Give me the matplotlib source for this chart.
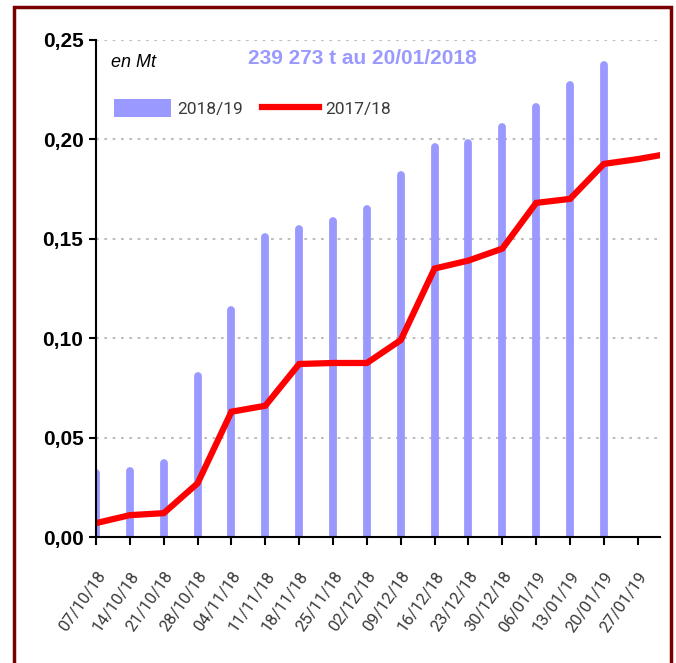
import matplotlib
matplotlib.use("Agg")
import matplotlib.pyplot as plt
from matplotlib.patches import Rectangle, Patch
from matplotlib.lines import Line2D
from matplotlib.transforms import ScaledTranslation
import numpy as np

weeks = ["07/10/18", "14/10/18", "21/10/18", "28/10/18", "04/11/18", "11/11/18",
         "18/11/18", "25/11/18", "02/12/18", "09/12/18", "16/12/18", "23/12/18",
         "30/12/18", "06/01/19", "13/01/19", "20/01/19", "27/01/19", ""]
season_1819 = [0.034, 0.035, 0.039, 0.083, 0.116, 0.153, 0.157, 0.161, 0.167,
               0.184, 0.198, 0.200, 0.208, 0.218, 0.229, 0.2393, None, None]
season_1718 = [0.007, 0.011, 0.012, 0.027, 0.063, 0.066, 0.087, 0.0875, 0.0875,
               0.099, 0.135, 0.139, 0.145, 0.168, 0.170, 0.1876, 0.190, 0.193]

BAR = "#9999FF"
RED = "#FF0000"
LIGHT = ["Roboto", "DejaVu Sans"]
GREY = "#3A3A3A"
BAR_LW = 5.6

fig = plt.figure(figsize=(6.76, 6.63), dpi=100)
ax = fig.add_axes([0.142, 0.190, 0.834, 0.750])

x = np.arange(len(weeks))
bx = [i for i, v in zip(x, season_1819) if v is not None]
bv = [v for v in season_1819 if v is not None]
# thick strokes with round tops; shift down by half the cap so the top sits on the value
down = ax.transData + ScaledTranslation(0, -BAR_LW / 2 / 72, fig.dpi_scale_trans)
bars = ax.vlines(bx, 0, bv, color=BAR, lw=BAR_LW, zorder=2, transform=down)
bars.set_capstyle("round")
ax.plot(x, season_1718, color=RED, lw=4.5, solid_joinstyle="miter", zorder=3)

ax.set_xlim(0, 16.65)
ax.set_ylim(0, 0.25)
ax.set_yticks(np.arange(0, 0.26, 0.05))
ax.set_yticklabels([f"{v:.2f}".replace(".", ",") for v in np.arange(0, 0.26, 0.05)],
                   fontfamily="Liberation Sans", fontweight="bold", fontsize=15)
ax.set_xticks(x[:17])
ax.set_xticklabels(weeks[:17], rotation=55, ha="right", rotation_mode="anchor",
                   fontfamily=LIGHT, fontsize=12, color=GREY)
ax.tick_params(axis="y", length=5, width=1.5, pad=4)
ax.tick_params(axis="x", length=6, width=1.5, pad=17)
for y in np.arange(0.05, 0.26, 0.05):
    ax.axhline(y, color="#BFBFBF", lw=1.5, ls=(0, (1.3, 2.7)), zorder=1)
for s in ("top", "right"):
    ax.spines[s].set_visible(False)
for s in ("left", "bottom"):
    ax.spines[s].set_linewidth(1.5)
    ax.spines[s].set_zorder(4)

fig.text(0.164, 0.906, "en Mt", fontfamily="Liberation Sans", style="italic",
         fontsize=13, va="center", ha="left")
fig.text(0.536, 0.912, "239 273 t au 20/01/2018", fontfamily="Liberation Sans",
         fontweight="bold", fontsize=15, color=BAR, va="center", ha="center")

handles = [Patch(facecolor=BAR, edgecolor="none"), Line2D([], [], color=RED, lw=4.5)]
leg = fig.legend(handles, ["2018/19", "2017/18"], loc="center left",
                 bbox_to_anchor=(0.146, 0.837), ncol=2, frameon=False,
                 handlelength=3.28, handleheight=1.15, handletextpad=0.35,
                 columnspacing=1.1, prop={"family": LIGHT, "size": 12.5})
for t in leg.get_texts():
    t.set_color(GREY)

fig.patches.append(Rectangle((0.020, -0.05), 0.972, 1.04, transform=fig.transFigure,
                             fill=False, edgecolor="#7A0000", lw=2.5))

fig.savefig("out.png", dpi=100)
